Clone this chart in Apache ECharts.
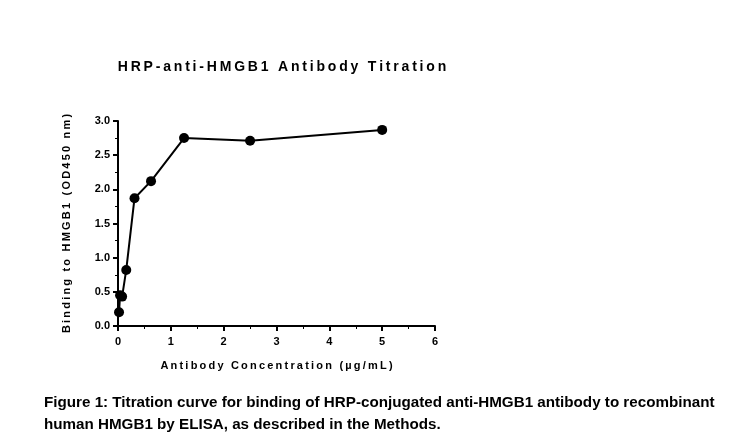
<!DOCTYPE html><html><head><meta charset="utf-8"><script src="https://cdn.jsdelivr.net/npm/echarts@6/dist/echarts.min.js"></script></head><body style="margin:0;background:#fff"><div id="c" style="width:738px;height:446px"></div><script>
const concentrations=[0.0195,0.039,0.078,0.156,0.3125,0.625,1.25,2.5,5];
const binding=[0.2,0.45,0.43,0.82,1.87,2.12,2.75,2.71,2.87];
const sp=s=>s.split('').join('\u2009');
const c=echarts.init(document.getElementById('c'));
c.setOption({animation:false,
title:{text:sp('HRP-anti-HMGB1 Antibody Titration'),left:277,textAlign:'center',top:55,textStyle:{fontFamily:'Arial, Liberation Sans',fontSize:14,fontWeight:'bold',color:'#000'}},
graphic:[{type:'text',left:44,top:392,style:{text:'Figure 1: Titration curve for binding of HRP-conjugated anti-HMGB1 antibody to recombinant\nhuman HMGB1 by ELISA, as described in the Methods.',font:'bold 15.2px "Liberation Sans", Arial',lineHeight:22,fill:'#000'}}],
grid:{left:118,right:303,top:121,bottom:120},
xAxis:{type:'value',min:0,max:6,interval:1,name:sp('Antibody Concentration (µg/mL)'),nameLocation:'middle',nameGap:34,nameTextStyle:{fontFamily:'Arial',fontSize:11,fontWeight:'bold',color:'#000'},axisLine:{lineStyle:{color:'#000',width:2}},axisTick:{lineStyle:{color:'#000',width:2},length:5},minorTick:{show:true,splitNumber:2,length:3,lineStyle:{color:'#000'}},splitLine:{show:false},axisLabel:{color:'#000',fontSize:11,fontWeight:'bold',margin:10,fontFamily:'Arial'}},
yAxis:{type:'value',min:0,max:3,interval:0.5,name:sp('Binding to HMGB1 (OD450 nm)'),nameLocation:'middle',nameGap:46,nameTextStyle:{fontFamily:'Arial',fontSize:11,fontWeight:'bold',color:'#000'},axisLine:{show:true,lineStyle:{color:'#000',width:2}},axisTick:{show:true,lineStyle:{color:'#000',width:2},length:5},minorTick:{show:true,splitNumber:2,length:3,lineStyle:{color:'#000'}},splitLine:{show:false},axisLabel:{color:'#000',fontSize:11,fontWeight:'bold',margin:8,fontFamily:'Arial',formatter:v=>v.toFixed(1)}},
series:[{type:'line',data:concentrations.map((x,i)=>[x,binding[i]]),symbol:'circle',symbolSize:10,itemStyle:{color:'#000'},lineStyle:{color:'#000',width:2}}]});
</script></body></html>
